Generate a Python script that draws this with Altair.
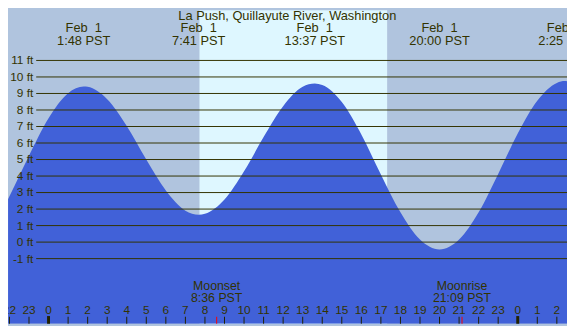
import altair as alt
import pandas as pd

title_text = "La Push, Quillayute River, Washington"

# tide heights (ft) at these hours (PST, Feb 1; >24 = Feb 2)
tide_hours = [-2.07, -2, -1, 0, 1, 1.8, 2, 3, 4, 5, 6, 7, 7.683, 8, 9, 10, 11, 12, 13,
              13.617, 14, 15, 16, 17, 18, 19, 20, 21, 22, 23, 24, 25, 26, 26.417, 26.6]
tide_ft = [2.60, 2.77, 5.23, 7.50, 9.02, 9.42, 9.40, 8.65, 7.03, 5.00, 3.12, 1.90, 1.65,
           1.71, 2.58, 4.29, 6.36, 8.23, 9.40, 9.60, 9.51, 8.48, 6.52, 4.10, 1.80, 0.15,
           -0.45, 0.15, 1.80, 4.13, 6.58, 8.56, 9.64, 9.75, 9.73]

event_hours = [1.8, 7.683, 13.617, 20.0, 26.417]
event_dates = ["Feb\u00a0\u00a01", "Feb\u00a0\u00a01", "Feb\u00a0\u00a01", "Feb\u00a0\u00a01", "Feb\u00a0\u00a02"]
event_times = ["1:48 PST", "7:41 PST", "13:37 PST", "20:00 PST", "2:25 PST"]

sunrise_hour = 7.72
sunset_hour = 17.32

level_ft = list(range(-1, 12))
level_labels = [f"{v} ft" for v in level_ft]

hour_ticks = list(range(-2, 27))
hour_labels = [str(h % 24) for h in hour_ticks]

moon_hours = [8.6, 21.15]
moon_names = ["Moonset", "Moonrise"]
moon_times = ["8:36 PST", "21:09 PST"]

# ---- layout ----
W, H = 567, 318
fx = W / 575
fy = H / 326
X_DOMAIN = [-2.074, 26.52]
Y_DOMAIN = [-4.945, 14.04]
TXT = "#333300"
FONT = "Liberation Sans"

xs = alt.Scale(domain=X_DOMAIN, nice=False, zero=False)
ys = alt.Scale(domain=Y_DOMAIN, nice=False, zero=False)

tide_df = pd.DataFrame({"hour": tide_hours, "ft": tide_ft})
day_df = pd.DataFrame({"start": [sunrise_hour], "end": [sunset_hour]})
lvl_df = pd.DataFrame({"ft": level_ft, "label": level_labels})
ev_df = pd.DataFrame({"hour": event_hours, "date": event_dates, "time": event_times})
hr_df = pd.DataFrame({"hour": hour_ticks, "label": hour_labels})
hr_df["midnight"] = [h % 24 == 0 for h in hour_ticks]
moon_df = pd.DataFrame({"hour": moon_hours, "name": moon_names, "time": moon_times})

X = lambda f: alt.X(f, scale=xs, axis=None)
Y = lambda f: alt.Y(f, scale=ys, axis=None)

day = alt.Chart(day_df).mark_rect(color="#DEF7FF").encode(
    x=X("start:Q"), x2="end:Q", y=alt.value(0), y2=alt.value(H))

area = alt.Chart(tide_df).mark_area(color="#4161D8", interpolate="monotone", clip=True).encode(
    x=X("hour:Q"), y=Y("ft:Q"), y2=alt.datum(Y_DOMAIN[0]))

levels = alt.Chart(lvl_df).mark_rule(color=TXT, strokeWidth=1).encode(
    y=Y("ft:Q"), x=alt.value(29 * fx), x2=alt.value(W))

level_text = alt.Chart(lvl_df).mark_text(
    align="right", baseline="middle", fontSize=12, font=FONT, color=TXT).encode(
    y=Y("ft:Q"), x=alt.value(26 * fx), text="label:N")

ev_date = alt.Chart(ev_df).mark_text(
    align="center", baseline="middle", fontSize=13, font=FONT, color=TXT).encode(
    x=X("hour:Q"), y=alt.value(19 * fy), text="date:N")
ev_time = alt.Chart(ev_df).mark_text(
    align="center", baseline="middle", fontSize=13, font=FONT, color=TXT).encode(
    x=X("hour:Q"), y=alt.value(31.8 * fy), text="time:N")

title = alt.Chart(pd.DataFrame({"t": [title_text]})).mark_text(
    align="center", baseline="middle", fontSize=13, font=FONT, color=TXT).encode(
    x=alt.value(287.3 * fx), y=alt.value(6.5 * fy), text="t:N")

ticks = alt.Chart(hr_df).transform_filter("!datum.midnight").mark_rule(
    color="#222200", strokeWidth=1).encode(
    x=X("hour:Q"), y=alt.value(318.7 * fy), y2=alt.value(H))
mid_ticks = alt.Chart(hr_df).transform_filter("datum.midnight").mark_rule(
    color="#222200", strokeWidth=3).encode(
    x=X("hour:Q"), y=alt.value(318 * fy), y2=alt.value(H))
moon_ticks = alt.Chart(moon_df).mark_rule(color="#FF0000", strokeWidth=1).encode(
    x=X("hour:Q"), y=alt.value(318.7 * fy), y2=alt.value(H))

hour_text = alt.Chart(hr_df).mark_text(
    align="center", baseline="middle", fontSize=12, font=FONT, color=TXT).encode(
    x=X("hour:Q"), y=alt.value(311.7 * fy), text="label:N")

moon_name = alt.Chart(moon_df).mark_text(
    align="center", baseline="middle", fontSize=12.5, font=FONT, color=TXT).encode(
    x=X("hour:Q"), y=alt.value(286.8 * fy), text="name:N")
moon_time = alt.Chart(moon_df).mark_text(
    align="center", baseline="middle", fontSize=12.5, font=FONT, color=TXT).encode(
    x=X("hour:Q"), y=alt.value(299.5 * fy), text="time:N")

chart = alt.layer(
    day, area, levels, level_text, ev_date, ev_time, title,
    ticks, mid_ticks, moon_ticks, hour_text, moon_name, moon_time
).properties(
    width=W, height=H, background="#B0C4DE", padding=0,
    autosize=alt.AutoSizeParams(type="none")
).configure_view(strokeWidth=0)

chart.save("out.html", embed_options={"renderer": "svg", "actions": False})
